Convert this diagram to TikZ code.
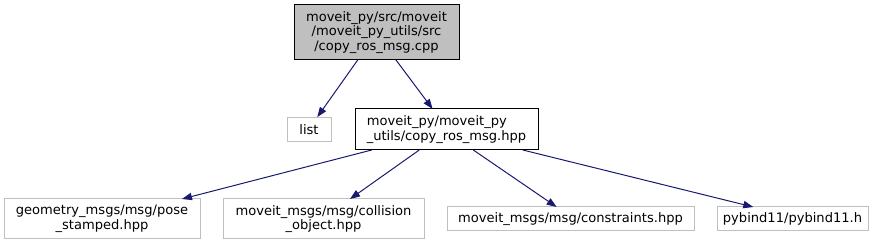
\documentclass[tikz,border=0pt]{standalone}
\usepackage{fontspec}
\setmainfont{DejaVu Sans}
\usetikzlibrary{arrows.meta,positioning}
\definecolor{edgeblue}{HTML}{191970}
\definecolor{boxgray}{HTML}{BFBFBF}

\begin{document}
\begin{tikzpicture}[
    x=0.75pt, y=-0.75pt,
    node distance=17.25pt,
    every node/.style={rectangle, inner sep=2pt, outer sep=0pt, line width=0.75pt, font=\fontsize{9.8}{11}\selectfont, align=center},
    header/.style={draw=black, fill=boxgray},
    local/.style={draw=black, fill=white, align=left},
    system/.style={draw=boxgray, fill=white},
    >={Triangle[length=7.5pt, width=5.5pt]}
]
    \useasboundingbox (0,0) rectangle (882,245);

    \node[header, minimum width=123.75pt, minimum height=41.25pt] (src) at (376.5,32.5)
        {moveit\_py/src/moveit\\/moveit\_py\_utils/src\\/copy\_ros\_msg.cpp};
    \node[local, minimum width=137.25pt, minimum height=30.75pt] (hpp) at (446.5,129.5)
        {moveit\_py/moveit\_py\\\_utils/copy\_ros\_msg.hpp};
    \node[system, left=18pt of hpp, minimum width=33pt, minimum height=18.5pt] (list) {list};

    \node[system, minimum width=147pt, minimum height=30pt] (pose) at (102,219)
        {geometry\_msgs/msg/pose\\\_stamped.hpp};
    \node[system, right=of pose, minimum width=150.75pt, minimum height=30pt] (collision)
        {moveit\_msgs/msg/collision\\\_object.hpp};
    \node[system, right=of collision, minimum width=185.25pt, minimum height=18pt] (constraints)
        {moveit\_msgs/msg/constraints.hpp};
    \node[system, right=of constraints, minimum width=113.25pt, minimum height=18pt] (pybind)
        {pybind11/pybind11.h};

    \path[->, edgeblue, line width=0.75pt]
        ([xshift=-14.1pt]src.south) edge ([xshift=6.2pt]list.north)
        ([xshift=14.6pt]src.south) edge ([xshift=-10.4pt]hpp.north)
        ([xshift=-56.1pt]hpp.south) edge ([xshift=60pt]pose.north)
        ([xshift=-20.4pt]hpp.south) edge ([xshift=19.9pt]collision.north)
        ([xshift=20.1pt]hpp.south) edge ([xshift=-10.4pt]constraints.north)
        ([xshift=57.2pt]hpp.south) edge ([xshift=-29.4pt]pybind.north);
\end{tikzpicture}
\end{document}
